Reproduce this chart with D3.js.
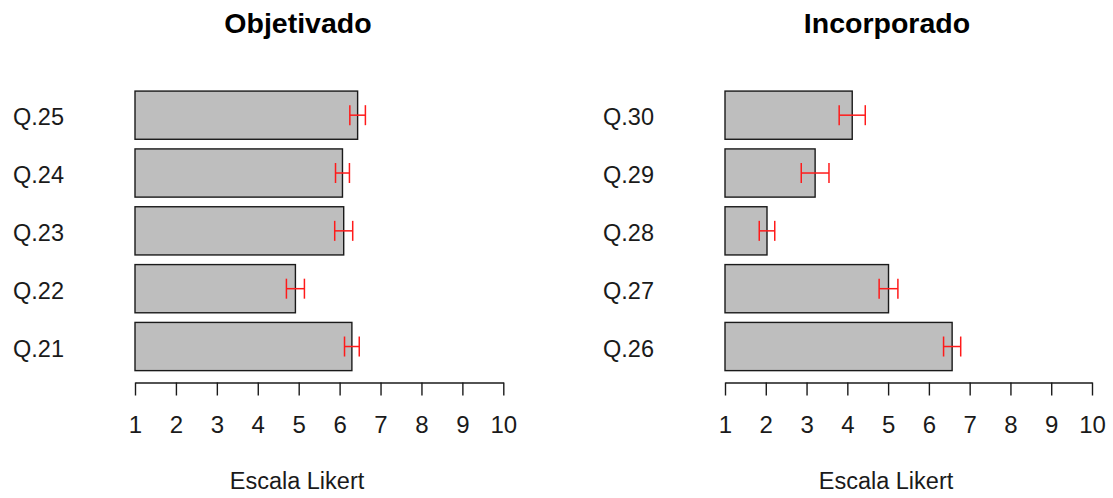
<!DOCTYPE html>
<html>
<head>
<meta charset="utf-8">
<script src="https://cdn.jsdelivr.net/npm/d3@7"></script>
<style>
  html, body { margin: 0; padding: 0; background: #fff; }
  svg { display: block; font-family: "Liberation Sans", Arial, Helvetica, sans-serif; }
</style>
</head>
<body>
<svg id="chart" width="1113" height="498"></svg>
<script>
// Mean Likert scores (bars listed bottom to top) and half-widths of the error bars
const catsObjetivado = ["Q.21", "Q.22", "Q.23", "Q.24", "Q.25"];
const meansObjetivado = [6.30, 4.92, 6.10, 6.07, 6.44];
const errObjetivado = [0.18, 0.22, 0.22, 0.17, 0.19];

const catsIncorporado = ["Q.26", "Q.27", "Q.28", "Q.29", "Q.30"];
const meansIncorporado = [6.57, 5.01, 2.03, 3.21, 4.12];
const errIncorporado = [0.21, 0.23, 0.19, 0.34, 0.32];

const tickValues = [1, 2, 3, 4, 5, 6, 7, 8, 9, 10];
const panelTitles = ["Objetivado", "Incorporado"];
const axisTitle = "Escala Likert";

const svg = d3.select("#chart");

const panels = [
  { title: panelTitles[0], cats: catsObjetivado, means: meansObjetivado, errs: errObjetivado, x0: 135, x1: 503.3, cx: 298 },
  { title: panelTitles[1], cats: catsIncorporado, means: meansIncorporado, errs: errIncorporado, x0: 725, x1: 1092, cx: 887 }
];

// Bar layout in barplot units: width 1, gap 0.2, region padded 4%
const y = d3.scaleLinear().domain([-0.032, 6.232]).range([381.8, 79.9]);
const axisY = 382.5;

panels.forEach(p => {
  const x = d3.scaleLinear().domain([1, 10]).range([p.x0, p.x1]);
  const g = svg.append("g");

  const rows = p.cats.map((c, i) => ({ cat: c, mean: p.means[i], err: p.errs[i], lo: 0.2 + 1.2 * i, hi: 1.2 + 1.2 * i }));

  // bars
  g.selectAll("rect.bar").data(rows).join("rect")
    .attr("class", "bar")
    .attr("x", x(1))
    .attr("y", d => y(d.hi))
    .attr("width", d => x(d.mean) - x(1))
    .attr("height", d => y(d.lo) - y(d.hi))
    .attr("fill", "#bebebe")
    .attr("stroke", "#1a1a1a")
    .attr("stroke-width", 1.4);

  // error bars
  const eb = g.selectAll("g.err").data(rows).join("g").attr("class", "err")
    .attr("stroke", "#ff1a1a").attr("stroke-width", 1.5).attr("fill", "none");
  eb.append("line")
    .attr("x1", d => x(d.mean - d.err)).attr("x2", d => x(d.mean + d.err))
    .attr("y1", d => y((d.lo + d.hi) / 2)).attr("y2", d => y((d.lo + d.hi) / 2));
  eb.append("line")
    .attr("x1", d => x(d.mean - d.err)).attr("x2", d => x(d.mean - d.err))
    .attr("y1", d => y((d.lo + d.hi) / 2) - 10).attr("y2", d => y((d.lo + d.hi) / 2) + 10);
  eb.append("line")
    .attr("x1", d => x(d.mean + d.err)).attr("x2", d => x(d.mean + d.err))
    .attr("y1", d => y((d.lo + d.hi) / 2) - 10).attr("y2", d => y((d.lo + d.hi) / 2) + 10);

  // category labels
  g.selectAll("text.cat").data(rows).join("text")
    .attr("class", "cat")
    .attr("x", p.x0 - 71)
    .attr("y", d => y((d.lo + d.hi) / 2) + 2)
    .attr("dy", "0.35em")
    .attr("text-anchor", "end")
    .attr("font-size", 23.5)
    .attr("fill", "#1a1a1a")
    .text(d => d.cat);

  // x axis
  const ax = g.append("g")
    .attr("transform", `translate(0,${axisY})`)
    .call(d3.axisBottom(x).tickValues(tickValues).tickSize(13).tickSizeOuter(0).tickPadding(20).tickFormat(d3.format("d")));
  ax.select(".domain").attr("stroke", "#1a1a1a").attr("stroke-width", 1.4);
  ax.selectAll(".tick line").attr("stroke", "#1a1a1a").attr("stroke-width", 1.4);
  ax.selectAll(".tick text")
    .attr("font-size", 24)
    .attr("font-family", "Liberation Sans, Arial, sans-serif")
    .attr("fill", "#1a1a1a");

  // panel title
  g.append("text")
    .attr("x", p.cx).attr("y", 32.5)
    .attr("text-anchor", "middle")
    .attr("font-size", 28.5)
    .attr("font-weight", "bold")
    .attr("fill", "#000")
    .text(p.title);

  // axis title
  g.append("text")
    .attr("x", p.cx - 1).attr("y", 489)
    .attr("text-anchor", "middle")
    .attr("font-size", 23.5)
    .attr("fill", "#1a1a1a")
    .text(axisTitle);
});
</script>
</body>
</html>
